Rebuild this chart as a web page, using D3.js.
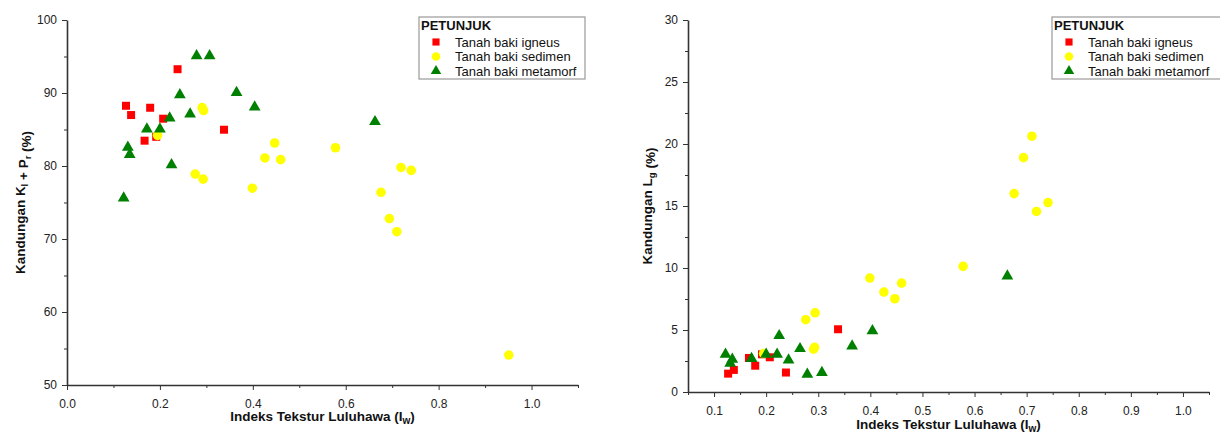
<!DOCTYPE html>
<html lang="en">
<head>
    <meta charset="UTF-8">
    <title>Indeks Tekstur Luluhawa</title>
    <script src="https://d3js.org/d3.v7.min.js"></script>
    <style>
        body { margin: 0; background: #fff; font-family: Arial, "Liberation Sans", sans-serif; }
        .tick text { fill: #222; font-size: 12px; font-family: Arial, "Liberation Sans", sans-serif; }
        .axis path, .axis line { stroke: #333; }
        .axis-title { font-weight: bold; font-size: 13.5px; fill: #111; }
        .legend text { font-size: 13px; fill: #111; }
    </style>
</head>
<body>
    <svg width="1220" height="439"></svg>

    <script>
        const seriesNames = ["Tanah baki igneus", "Tanah baki sedimen", "Tanah baki metamorf"];

        // igneus
        const igneusX  = [0.127, 0.138, 0.167, 0.179, 0.192, 0.207, 0.238, 0.338];
        const igneusKP = [88.25, 86.98, 83.47, 87.98, 84.0, 86.48, 93.26, 84.97];
        const igneusLg = [1.48, 1.78, 2.74, 2.12, 3.04, 2.8, 1.57, 5.06];

        // sedimen
        const sedimenX  = [0.195, 0.276, 0.291, 0.293, 0.294, 0.399, 0.426, 0.447, 0.460, 0.578, 0.676, 0.694, 0.710, 0.719, 0.741, 0.951];
        const sedimenKP = [84.2, 78.9, 88.0, 78.2, 87.6, 76.96, 81.1, 83.15, 80.87, 82.5, 76.4, 72.8, 71.0, 79.8, 79.4, 54.1];
        const sedimenLg = [3.1, 5.83, 3.45, 3.6, 6.39, 9.19, 8.06, 7.52, 8.78, 10.13, 16.0, 18.9, 20.63, 14.56, 15.28, null];

        // metamorf
        const metamorfX  = [0.122, 0.131, 0.135, 0.172, 0.200, 0.221, 0.225, 0.243, 0.265, 0.279, 0.307, 0.365, 0.404, 0.663];
        const metamorfKP = [75.6, 82.56, 81.56, 85.06, 85.06, 86.57, 80.15, 89.75, 87.1, 95.1, 95.1, 90.07, 88.07, 86.07];
        const metamorfLg = [3.04, 2.31, 2.63, 2.69, 3.04, 3.04, 4.54, 2.58, 3.49, 1.42, 1.56, 3.71, 4.94, 9.35];

        // tick values
        const leftXTicks = [0, 0.2, 0.4, 0.6, 0.8, 1.0];
        const leftXMinor = [0.1, 0.3, 0.5, 0.7, 0.9, 1.1];
        const leftYTicks = [50, 60, 70, 80, 90, 100];
        const leftYMinor = [55, 65, 75, 85, 95];
        const rightXTicks = [0.1, 0.2, 0.3, 0.4, 0.5, 0.6, 0.7, 0.8, 0.9, 1.0];
        const rightXMinor = [0.05, 0.15, 0.25, 0.35, 0.45, 0.55, 0.65, 0.75, 0.85, 0.95, 1.05];
        const rightYTicks = [0, 5, 10, 15, 20, 25, 30];
        const rightYMinor = [2.5, 7.5, 12.5, 17.5, 22.5, 27.5];

        const colors = ["#ff0000", "#ffff00", "#008000"];
        const shapes = [d3.symbolSquare, d3.symbolCircle, d3.symbolTriangle];
        const sizes = [64, 72, 60];

        const svg = d3.select("svg");

        function zip(xs, ys) {
            return xs.map((x, i) => ({x: x, y: ys[i]})).filter(d => d.y != null);
        }

        function drawPanel(p) {
            const x = d3.scaleLinear().domain(p.xDomain).range([p.left, p.right]);
            const y = d3.scaleLinear().domain(p.yDomain).range([p.bottom, p.top]);
            const g = svg.append("g");

            // minor ticks first
            g.append("g").attr("class", "axis")
                .attr("transform", `translate(0,${p.bottom})`)
                .call(d3.axisBottom(x).tickValues(p.xMinor).tickSize(3).tickFormat(""))
                .call(a => a.select(".domain").remove());
            g.append("g").attr("class", "axis")
                .attr("transform", `translate(${p.left},0)`)
                .call(d3.axisLeft(y).tickValues(p.yMinor).tickSize(3).tickFormat(""))
                .call(a => a.select(".domain").remove());

            // main axes
            g.append("g").attr("class", "axis")
                .attr("transform", `translate(0,${p.bottom})`)
                .call(d3.axisBottom(x).tickValues(p.xTicks).tickSize(5).tickSizeOuter(0).tickPadding(p.xPad).tickFormat(d3.format(".1f")))
                .call(a => a.select(".domain").attr("stroke-width", 1.6));
            g.append("g").attr("class", "axis")
                .attr("transform", `translate(${p.left},0)`)
                .call(d3.axisLeft(y).tickValues(p.yTicks).tickSize(5).tickSizeOuter(0).tickPadding(5).tickFormat(d3.format("d")))
                .call(a => a.select(".domain").attr("stroke-width", 1.6));

            // points
            p.series.forEach((s, i) => {
                g.append("g").selectAll("path")
                    .data(s)
                    .enter()
                    .append("path")
                    .attr("d", d3.symbol().type(shapes[i]).size(sizes[i]))
                    .attr("transform", d => `translate(${x(d.x)},${y(d.y)})`)
                    .attr("fill", colors[i]);
            });

            // x title
            const xt = g.append("text").attr("class", "axis-title")
                .attr("x", (p.left + p.right) / 2).attr("y", p.xTitleY)
                .attr("text-anchor", "middle");
            xt.append("tspan").text("Indeks Tekstur Luluhawa (I");
            xt.append("tspan").attr("dy", 3).attr("font-size", "10px").text("w");
            xt.append("tspan").attr("dy", -3).text(")");

            // y title
            const yt = g.append("text").attr("class", "axis-title")
                .attr("font-size", "13px")
                .attr("transform", `translate(${p.yTitleX},${(p.top + p.bottom) / 2}) rotate(-90)`)
                .attr("text-anchor", "middle");
            p.yTitle.forEach(part => {
                if (part.sub) {
                    yt.append("tspan").attr("dy", 3).attr("font-size", "9.5px").text(part.sub);
                    yt.append("tspan").attr("dy", -3).text("");
                } else {
                    yt.append("tspan").text(part.t);
                }
            });

            // legend
            const lg = g.append("g").attr("class", "legend");
            lg.append("rect")
                .attr("x", p.legX).attr("y", 17)
                .attr("width", p.legW).attr("height", 62)
                .attr("fill", "#fff").attr("stroke", "#999").attr("stroke-width", 1.2);
            lg.append("text").attr("x", p.legX + 2).attr("y", 30)
                .attr("font-weight", "bold").text("PETUNJUK");
            seriesNames.forEach((name, i) => {
                const cy = 42 + i * 14.5;
                lg.append("path")
                    .attr("d", d3.symbol().type(shapes[i]).size(sizes[i] * 0.8))
                    .attr("transform", `translate(${p.legX + 17},${cy})`)
                    .attr("fill", colors[i]);
                lg.append("text").attr("x", p.legX + 36).attr("y", cy + 4.5).text(name);
            });
        }

        drawPanel({
            left: 67, right: 578, top: 20, bottom: 385,
            xDomain: [0, 1.1], yDomain: [50, 100],
            xTicks: leftXTicks, xMinor: leftXMinor, yTicks: leftYTicks, yMinor: leftYMinor,
            series: [zip(igneusX, igneusKP), zip(sedimenX, sedimenKP), zip(metamorfX, metamorfKP)],
            xPad: 9, xTitleY: 421, yTitleX: 25,
            yTitle: [{t: "Kandungan K"}, {sub: "l"}, {t: " + P"}, {sub: "r"}, {t: " (%)"}],
            legX: 419, legW: 166
        });

        drawPanel({
            left: 688, right: 1209, top: 20, bottom: 392,
            xDomain: [0.05, 1.05], yDomain: [0, 30],
            xTicks: rightXTicks, xMinor: rightXMinor, yTicks: rightYTicks, yMinor: rightYMinor,
            series: [zip(igneusX, igneusLg), zip(sedimenX, sedimenLg), zip(metamorfX, metamorfLg)],
            xPad: 9, xTitleY: 429, yTitleX: 652,
            yTitle: [{t: "Kandungan L"}, {sub: "g"}, {t: " (%)"}],
            legX: 1052, legW: 172
        });
    </script>
</body>
</html>
